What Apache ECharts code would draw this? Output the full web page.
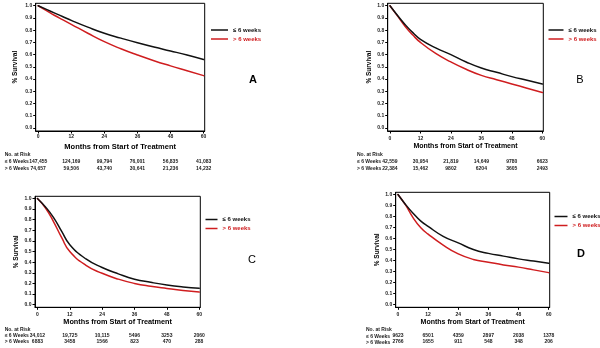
<!DOCTYPE html>
<html>
<head>
<meta charset="utf-8">
<style>
  html, body { margin: 0; padding: 0; background: #fff; }
  #chart { width: 600px; height: 348px; }
</style>
<script src="https://cdn.jsdelivr.net/npm/echarts@6/dist/echarts.min.js"></script>
</head>
<body>
<div id="chart"></div>
<script>
// Follow-up time points (months) at which survival was read
const months = [0, 3, 6, 9, 12, 18, 24, 30, 36, 42, 48, 54, 60];
const xTicks = [0, 12, 24, 36, 48, 60];
const yTicks = [0, 0.1, 0.2, 0.3, 0.4, 0.5, 0.6, 0.7, 0.8, 0.9, 1.0];

// Survival proportions, ≤ 6 weeks vs > 6 weeks
const survA_le6 = [1, 0.97, 0.94, 0.91, 0.88, 0.825, 0.775, 0.735, 0.697, 0.662, 0.63, 0.597, 0.56];
const survA_gt6 = [1, 0.96, 0.92, 0.884, 0.848, 0.775, 0.706, 0.648, 0.597, 0.55, 0.508, 0.468, 0.428];
const survB_le6 = [1, 0.92, 0.845, 0.78, 0.725, 0.655, 0.6, 0.54, 0.49, 0.455, 0.42, 0.39, 0.36];
const survB_gt6 = [1, 0.915, 0.83, 0.76, 0.70, 0.61, 0.54, 0.48, 0.43, 0.395, 0.36, 0.325, 0.29];
const survC_le6 = [1, 0.92, 0.82, 0.69, 0.565, 0.43, 0.35, 0.29, 0.24, 0.21, 0.185, 0.167, 0.155];
const survC_gt6 = [1, 0.91, 0.78, 0.63, 0.5, 0.37, 0.295, 0.24, 0.2, 0.173, 0.152, 0.133, 0.118];
const survD_le6 = [1, 0.91, 0.83, 0.76, 0.71, 0.62, 0.56, 0.5, 0.465, 0.44, 0.415, 0.395, 0.375];
const survD_gt6 = [1, 0.905, 0.79, 0.7, 0.64, 0.54, 0.46, 0.41, 0.385, 0.36, 0.34, 0.315, 0.29];

// Numbers at risk at 0, 12, 24, 36, 48, 60 months
const riskA_le6 = ['147,455', '124,169', '99,794', '76,001', '56,835', '41,083'];
const riskA_gt6 = ['74,657', '59,506', '43,740', '30,641', '21,236', '14,232'];
const riskB_le6 = ['42,559', '30,954', '21,819', '14,649', '9780', '6623'];
const riskB_gt6 = ['22,384', '15,462', '9802', '6204', '3605', '2493'];
const riskC_le6 = ['34,012', '19,725', '10,115', '5496', '3253', '2060'];
const riskC_gt6 = ['6883', '3458', '1566', '823', '470', '288'];
const riskD_le6 = ['9623', '6501', '4359', '2897', '2038', '1378'];
const riskD_gt6 = ['2766', '1655', '911', '548', '348', '206'];

const seriesNames = ['≤ 6 weeks', '> 6 weeks'];
const rowLabels = ['No. at Risk', '≤ 6 Weeks', '> 6 Weeks'];
const panelLetters = ['A', 'B', 'C', 'D'];
const xTitle = 'Months from Start of Treatment';
const yTitle = '% Survival';

const FONT = 'Liberation Sans, Arial, sans-serif';
const BLACK = '#111';
const RED = '#cf1d1f';

// Layout of each panel (pixel boxes)
const panels = [
  { grid: { left: 35.7, top: 3.3, width: 169, height: 127.7 },
    le6: survA_le6, gt6: survA_gt6, r1: riskA_le6, r2: riskA_gt6,
    labelMargin: 3.5, nameGap: 12, nameSize: 7.5, yNameGap: 16.5,
    riskOff: [28, 35], rowX: 4.7, rowY: [155, 162, 169],
    legend: { left: 211, top: 25.5, w: 17 }, letter: { x: 253, y: 80, bold: true } },
  { grid: { left: 387.7, top: 3.3, width: 155.6, height: 127.7 },
    le6: survB_le6, gt6: survB_gt6, r1: riskB_le6, r2: riskB_gt6,
    labelMargin: 5, nameGap: 12, nameSize: 7, yNameGap: 14.5,
    riskOff: [28, 35], rowX: 357, rowY: [155, 162, 169],
    legend: { left: 548.5, top: 25.5, w: 15 }, letter: { x: 580, y: 80, bold: false } },
  { grid: { left: 35, top: 196.3, width: 165.3, height: 111 },
    le6: survC_le6, gt6: survC_gt6, r1: riskC_le6, r2: riskC_gt6,
    labelMargin: 5, nameGap: 11, nameSize: 7.3, yNameGap: 15.7,
    riskOff: [25.4, 31.4], rowX: 4.7, rowY: [329.3, 335.7, 341.7],
    legend: { left: 205.5, top: 215, w: 12 }, letter: { x: 252, y: 260, bold: false } },
  { grid: { left: 395.7, top: 192.3, width: 154, height: 115 },
    le6: survD_le6, gt6: survD_gt6, r1: riskD_le6, r2: riskD_gt6,
    labelMargin: 5, nameGap: 11.6, nameSize: 7, yNameGap: 14.7,
    riskOff: [26, 32], rowX: 366, rowY: [329.3, 336.3, 342.3],
    legend: { left: 554.5, top: 212, w: 13 }, letter: { x: 581, y: 254, bold: true } }
];

const X_MIN = -0.9, X_MAX = 60.4, Y_MIN = -0.025, Y_MAX = 1.02;

const option = {
  animation: false,
  backgroundColor: '#fff',
  textStyle: { fontFamily: FONT },
  grid: [], xAxis: [], yAxis: [], series: [], legend: [], graphic: []
};

panels.forEach((p, i) => {
  option.grid.push(Object.assign({
    show: true, borderColor: '#000', borderWidth: 1,
    backgroundColor: 'transparent', containLabel: false, outerBoundsMode: 'none'
  }, p.grid));

  const mainX = option.xAxis.length;
  // survival time axis
  option.xAxis.push({
    gridIndex: i, type: 'value', min: X_MIN, max: X_MAX,
    axisLine: { show: true, onZero: false, lineStyle: { color: '#000', width: 1 } },
    axisTick: { show: true, customValues: xTicks, length: 2.5, lineStyle: { color: '#000' } },
    axisLabel: { customValues: xTicks, fontSize: 5, fontWeight: 'bold', margin: p.labelMargin, color: '#222',
      fontFamily: FONT, showMinLabel: true, showMaxLabel: true, hideOverlap: false },
    splitLine: { show: false },
    name: xTitle, nameLocation: 'middle', nameGap: p.nameGap, nameMoveOverlap: false,
    nameTextStyle: { fontSize: p.nameSize, fontWeight: 'bold', color: '#000', fontFamily: FONT }
  });
  // numbers-at-risk rows, laid out on the same time scale
  [p.r1, p.r2].forEach((row, k) => {
    option.xAxis.push({
      gridIndex: i, type: 'value', min: X_MIN, max: X_MAX, position: 'bottom',
      offset: p.riskOff[k],
      axisLine: { show: false }, axisTick: { show: false }, splitLine: { show: false },
      axisLabel: {
        customValues: xTicks, fontSize: 5, fontWeight: 'bold', margin: 0, color: '#222', fontFamily: FONT,
        showMinLabel: true, showMaxLabel: true, hideOverlap: false,
        formatter: v => row[Math.round(v / 12)]
      }
    });
  });

  option.yAxis.push({
    gridIndex: i, type: 'value', min: Y_MIN, max: Y_MAX,
    axisLine: { show: true, onZero: false, lineStyle: { color: '#000', width: 1 } },
    axisTick: { show: true, customValues: yTicks, length: 2.5, lineStyle: { color: '#000' } },
    axisLabel: { customValues: yTicks, fontSize: 5, fontWeight: 'bold', margin: 3.5, color: '#222', fontFamily: FONT,
      showMinLabel: true, showMaxLabel: true, hideOverlap: false,
      formatter: v => v.toFixed(1) },
    splitLine: { show: false },
    name: yTitle, nameLocation: 'middle', nameGap: p.yNameGap, nameMoveOverlap: false,
    nameTextStyle: { fontSize: 6.5, fontWeight: 'bold', color: '#000', fontFamily: FONT }
  });

  [[p.gt6, RED, seriesNames[1]], [p.le6, BLACK, seriesNames[0]]].forEach(([vals, col, name]) => {
    option.series.push({
      type: 'line', name: name, xAxisIndex: mainX, yAxisIndex: i,
      data: months.map((m, j) => [m, vals[j]]),
      showSymbol: false, symbol: 'none', smooth: 0.5,
      lineStyle: { color: col, width: 1.5, cap: 'round', join: 'round' }, itemStyle: { color: col }
    });
  });

  option.legend.push({
    orient: 'vertical', left: p.legend.left, top: p.legend.top, padding: 0,
    itemGap: 0, itemWidth: p.legend.w, itemHeight: 1.5, icon: 'rect',
    selectedMode: false,
    textStyle: { fontSize: 6, fontWeight: 'bold', lineHeight: 9, fontFamily: FONT },
    data: [
      { name: seriesNames[0], textStyle: { color: BLACK } },
      { name: seriesNames[1], textStyle: { color: RED } }
    ]
  });

  option.graphic.push({
    type: 'text', x: p.letter.x, y: p.letter.y,
    style: { text: panelLetters[i], fontSize: 11, fontWeight: p.letter.bold ? 'bold' : 'normal',
      fill: '#000', align: 'center', verticalAlign: 'middle', fontFamily: FONT }
  });
  rowLabels.forEach((t, k) => {
    option.graphic.push({
      type: 'text', x: p.rowX, y: p.rowY[k],
      style: { text: t, fontSize: 5, fontWeight: 'bold', fill: '#222', align: 'left', verticalAlign: 'middle', fontFamily: FONT }
    });
  });
});

const chart = echarts.init(document.getElementById('chart'), null, { renderer: 'canvas' });
chart.setOption(option);
</script>
</body>
</html>
